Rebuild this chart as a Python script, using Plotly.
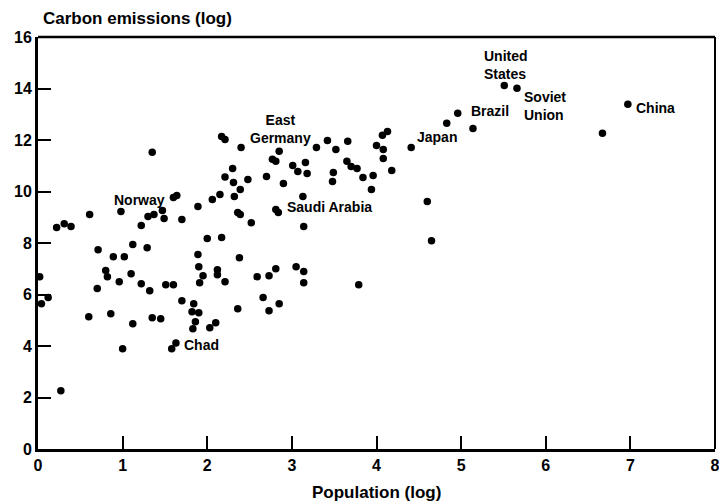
import plotly.graph_objects as go

# Unlabelled countries: log population (x) and log carbon emissions (y)
population_log = [
    0.02, 0.04, 0.12, 0.22, 0.31, 0.39, 0.61, 0.71, 0.89, 1.02,
    0.80, 0.82, 0.96, 0.70, 0.60, 0.86, 1.12, 1.29, 1.22, 1.30,
    1.37, 1.47, 1.49, 1.60, 1.64, 1.70, 1.89, 2.06, 2.15, 2.21,
    2.31, 2.30, 2.32, 2.36, 2.39, 2.00, 2.17, 2.38, 1.10, 1.22,
    1.32, 1.51, 1.60, 1.89, 1.90, 1.95, 1.91, 2.12, 2.12, 2.21,
    1.70, 1.84, 1.82, 1.90, 2.36, 1.12, 1.35, 1.45, 1.86, 1.83,
    2.10, 2.03, 1.58, 1.00, 0.27, 1.35, 2.17, 2.21, 2.40, 2.39,
    2.48, 4.83, 4.13, 4.07, 4.00, 4.08, 4.08, 4.18, 3.96, 3.84,
    3.94, 3.66, 3.52, 3.42, 3.29, 3.65, 3.70, 3.77, 3.49, 3.48,
    2.77, 2.81, 3.01, 3.16, 3.07, 3.18, 2.70, 2.90, 3.13, 2.81,
    3.14, 2.52, 4.60, 4.65, 2.59, 2.73, 2.81, 3.05, 3.14, 3.14,
    3.79, 2.66, 2.85, 2.73, 5.14, 6.67,
]
carbon_log = [
    6.69, 5.64, 5.88, 8.60, 8.75, 8.64, 9.11, 7.74, 7.47, 7.47,
    6.93, 6.69, 6.50, 6.23, 5.14, 5.25, 7.94, 7.82, 8.68, 9.03,
    9.11, 9.26, 8.95, 9.77, 9.84, 8.91, 9.42, 9.69, 9.88, 10.56,
    10.35, 10.89, 9.81, 9.18, 9.11, 8.17, 8.21, 7.43, 6.81, 6.42,
    6.15, 6.38, 6.38, 7.55, 7.08, 6.73, 6.46, 6.96, 6.77, 6.50,
    5.76, 5.64, 5.33, 5.29, 5.45, 4.86, 5.10, 5.06, 4.94, 4.67,
    4.90, 4.71, 3.89, 3.89, 2.26, 11.52, 12.14, 12.02, 11.71, 10.08,
    10.47, 12.65, 12.33, 12.18, 11.79, 11.63, 11.28, 10.82, 10.62, 10.54,
    10.08, 11.95, 11.63, 11.98, 11.71, 11.17, 10.97, 10.89, 10.74, 10.39,
    11.25, 11.17, 11.01, 11.13, 10.78, 10.70, 10.58, 10.31, 9.81, 9.30,
    8.64, 8.79, 9.61, 8.09, 6.69, 6.73, 7.00, 7.08, 6.89, 6.46,
    6.38, 5.88, 5.64, 5.37, 12.45, 12.26,
]

# Labelled countries
label_names = ["Norway", "East<br>Germany", "Saudi Arabia", "Japan", "Brazil",
               "United<br>States", "Soviet<br>Union", "China", "Chad"]
label_population_log = [0.98, 2.85, 2.84, 4.41, 4.96, 5.51, 5.66, 6.97, 1.63]
label_carbon_log = [9.22, 11.56, 9.18, 11.71, 13.04, 14.12, 14.01, 13.39, 4.12]

x_ticks = [0, 1, 2, 3, 4, 5, 6, 7, 8]
y_ticks = [0, 2, 4, 6, 8, 10, 12, 14, 16]

# label placement styles (anchor, align, pixel offsets)
label_style = {
    "Norway": ("left", "left", -9, 12),
    "East<br>Germany": ("center", "center", 1, 22),
    "Saudi Arabia": ("left", "left", 7, 6),
    "Japan": ("left", "left", 4, 10),
    "Brazil": ("left", "left", 11, 2),
    "United<br>States": ("left", "left", -22, 20),
    "Soviet<br>Union": ("left", "left", 5, -18),
    "China": ("left", "left", 6, -4),
    "Chad": ("left", "left", 6, -2),
}

FONT = "Liberation Sans, Arial, Helvetica, sans-serif"

fig = go.Figure()
marker = dict(color="black", size=7.5, line=dict(width=0))
fig.add_trace(go.Scatter(x=population_log, y=carbon_log, mode="markers",
                         marker=marker, showlegend=False, hoverinfo="skip"))
fig.add_trace(go.Scatter(x=label_population_log, y=label_carbon_log, mode="markers",
                         marker=marker, showlegend=False, text=label_names))

annotations = []
for name, px, py in zip(label_names, label_population_log, label_carbon_log):
    xa, al, dx, dy = label_style[name]
    annotations.append(dict(x=px, y=py, xref="x", yref="y", text=name, showarrow=False,
                            xanchor=xa, yanchor="middle", align=al, xshift=dx, yshift=dy,
                            font=dict(family=FONT, size=14, color="black", weight="bold")))

annotations.append(dict(x=0, y=1, xref="paper", yref="paper", text="Carbon emissions (log)",
                        showarrow=False, xanchor="left", yanchor="middle", xshift=3, yshift=19,
                        font=dict(family=FONT, size=17, color="black", weight="bold")))
annotations.append(dict(x=0.5, y=0, xref="paper", yref="paper", text="Population (log)",
                        showarrow=False, xanchor="center", yanchor="middle", yshift=-43,
                        font=dict(family=FONT, size=17, color="black", weight="bold")))

fig.update_layout(
    width=719, height=502,
    margin=dict(l=38, r=4, t=37, b=53, pad=0, autoexpand=False),
    paper_bgcolor="white", plot_bgcolor="white",
    annotations=annotations,
    shapes=[
        dict(type="line", xref="paper", yref="paper", x0=0, x1=1, y0=1, y1=1,
             line=dict(color="black", width=2.5)),
        dict(type="line", xref="paper", yref="paper", x0=1, x1=1, y0=0, y1=1,
             line=dict(color="black", width=2)),
    ],
)
fig.update_xaxes(range=[0, 8], tickvals=x_ticks, ticktext=[str(v) for v in x_ticks],
                 automargin=False, ticklabeloverflow="allow",
                 showgrid=False, zeroline=False, showline=True, linecolor="black", linewidth=3,
                 ticks="inside", ticklen=13, tickwidth=2, tickcolor="black",
                 tickfont=dict(family=FONT, size=16, color="black", weight="bold"))
fig.update_yaxes(range=[0, 16], tickvals=y_ticks, ticktext=[str(v) for v in y_ticks],
                 automargin=False, ticklabeloverflow="allow",
                 showgrid=False, zeroline=False, showline=True, linecolor="black", linewidth=3,
                 ticks="inside", ticklen=13, tickwidth=2, tickcolor="black",
                 tickfont=dict(family=FONT, size=16, color="black", weight="bold"))

fig.write_html("out.html", config={"displayModeBar": False},
               post_script="document.body.style.margin='0';")
